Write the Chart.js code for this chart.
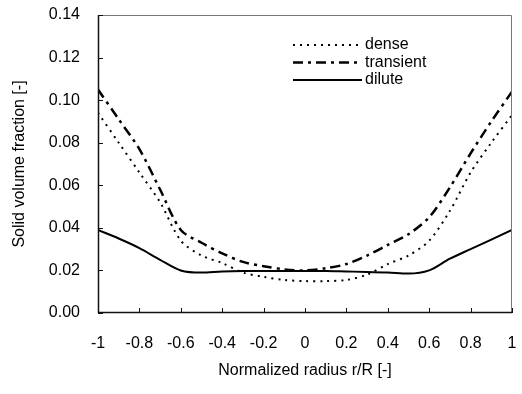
<!DOCTYPE html>
<html>
<head>
<meta charset="utf-8">
<script src="https://cdn.jsdelivr.net/npm/chart.js@4/dist/chart.umd.min.js"></script>
<style>
  html, body { margin: 0; padding: 0; background: #fff; }
  #wrap { width: 522px; height: 394px; }
</style>
</head>
<body>
<div id="wrap"><canvas id="c"></canvas></div>
<script>
// normalized radius r/R
const radius = [-1, -0.9, -0.8, -0.7, -0.6, -0.5, -0.4, -0.3, -0.2, -0.1, 0,
                0.1, 0.2, 0.3, 0.4, 0.5, 0.6, 0.7, 0.8, 0.9, 1];

const dense = [0.094, 0.080, 0.066, 0.052, 0.034, 0.027, 0.0235, 0.019, 0.017, 0.0155, 0.015,
               0.015, 0.0155, 0.018, 0.023, 0.027, 0.034, 0.048, 0.066, 0.080, 0.093];
const transient = [0.105, 0.091, 0.077, 0.058, 0.039, 0.033, 0.028, 0.024, 0.022, 0.0205, 0.020,
                   0.021, 0.023, 0.027, 0.032, 0.037, 0.045, 0.059, 0.075, 0.090, 0.104];
const dilute = [0.039, 0.035, 0.0305, 0.025, 0.020, 0.019, 0.0195, 0.0197, 0.0197, 0.0197, 0.0197,
                0.0197, 0.0195, 0.0193, 0.019, 0.0185, 0.020, 0.0255, 0.030, 0.0345, 0.039];

const seriesNames = ['dense', 'transient', 'dilute'];

const FONT = '"Liberation Sans", Arial, sans-serif';
const pts = arr => arr.map((v, i) => ({ x: radius[i], y: v }));

// inward tick marks, frame and legend inside the plot
const frame = {
    id: 'frame',
    afterDraw(chart) {
        const ctx = chart.ctx, a = chart.chartArea;
        const xs = chart.scales.x, ys = chart.scales.y;
        ctx.save();
        ctx.lineWidth = 1;
        ctx.strokeStyle = '#777';
        ctx.beginPath();
        ctx.moveTo(a.left, a.top + 0.5);
        ctx.lineTo(a.right - 0.5, a.top + 0.5);
        ctx.lineTo(a.right - 0.5, a.bottom);
        ctx.stroke();

        ctx.strokeStyle = '#111';
        ctx.lineWidth = 1.5;
        ctx.beginPath();
        ctx.moveTo(a.left + 0.5, a.top);
        ctx.lineTo(a.left + 0.5, a.bottom - 0.5);
        ctx.lineTo(a.right, a.bottom - 0.5);
        ctx.stroke();

        ctx.lineWidth = 1;
        ctx.beginPath();
        xs.ticks.forEach(t => {
            const px = Math.round(xs.getPixelForValue(t.value)) + 0.5;
            ctx.moveTo(px, a.bottom);
            ctx.lineTo(px, a.bottom - 5);
        });
        ys.ticks.forEach(t => {
            const py = Math.round(ys.getPixelForValue(t.value)) + 0.5;
            ctx.moveTo(a.left, py);
            ctx.lineTo(a.left + 5, py);
        });
        ctx.stroke();

        ctx.font = '16px ' + FONT;
        ctx.textBaseline = 'middle';
        ctx.fillStyle = '#000';
        chart.data.datasets.forEach((ds, i) => {
            const y = 45 + i * 17.5;
            ctx.beginPath();
            ctx.setLineDash(ds.borderDash || []);
            ctx.lineWidth = ds.borderWidth;
            ctx.strokeStyle = '#000';
            ctx.moveTo(293, y);
            ctx.lineTo(362, y);
            ctx.stroke();
            ctx.setLineDash([]);
            ctx.fillText(ds.label, 365, y);
        });
        ctx.restore();
    }
};

new Chart(document.getElementById('c'), {
    type: 'line',
    data: {
        datasets: [
            { label: seriesNames[0], data: pts(dense), borderColor: '#000', borderWidth: 2,
              borderDash: [2, 5], pointRadius: 0, tension: 0.3 },
            { label: seriesNames[1], data: pts(transient), borderColor: '#000', borderWidth: 2.5,
              borderDash: [10, 5, 3, 5], pointRadius: 0, tension: 0.3 },
            { label: seriesNames[2], data: pts(dilute), borderColor: '#000', borderWidth: 2,
              pointRadius: 0, cubicInterpolationMode: 'monotone' }
        ]
    },
    options: {
        responsive: true,
        maintainAspectRatio: false,
        animation: false,
        layout: { padding: { top: 15, right: 10, left: 0, bottom: 0 } },
        plugins: { legend: { display: false }, tooltip: { enabled: false } },
        scales: {
            x: {
                type: 'linear', min: -1, max: 1,
                grid: { display: false, drawTicks: false },
                border: { display: false },
                afterFit(s) { s.height = 81; s.paddingLeft = 0; s.paddingRight = 0; },
                ticks: {
                    stepSize: 0.2, color: '#000', padding: 21,
                    font: { family: FONT, size: 16 },
                    callback: v => Math.abs(v) < 1e-9 ? '0' : String(Math.round(v * 10) / 10)
                },
                title: {
                    display: true, text: 'Normalized radius r/R [-]', color: '#000',
                    font: { family: FONT, size: 16 },
                    padding: { top: 0, bottom: 14 }
                }
            },
            y: {
                min: 0, max: 0.14,
                grid: { display: false, drawTicks: false },
                border: { display: false },
                afterFit(s) { s.width = 98; s.paddingTop = 0; s.paddingBottom = 0; },
                ticks: {
                    stepSize: 0.02, color: '#000', padding: 18,
                    font: { family: FONT, size: 16 },
                    callback: v => v.toFixed(2)
                },
                title: {
                    display: true, text: 'Solid volume fraction [-]', color: '#000',
                    font: { family: FONT, size: 16 },
                    padding: { top: 10, bottom: 0 }
                }
            }
        }
    },
    plugins: [frame]
});
</script>
</body>
</html>
